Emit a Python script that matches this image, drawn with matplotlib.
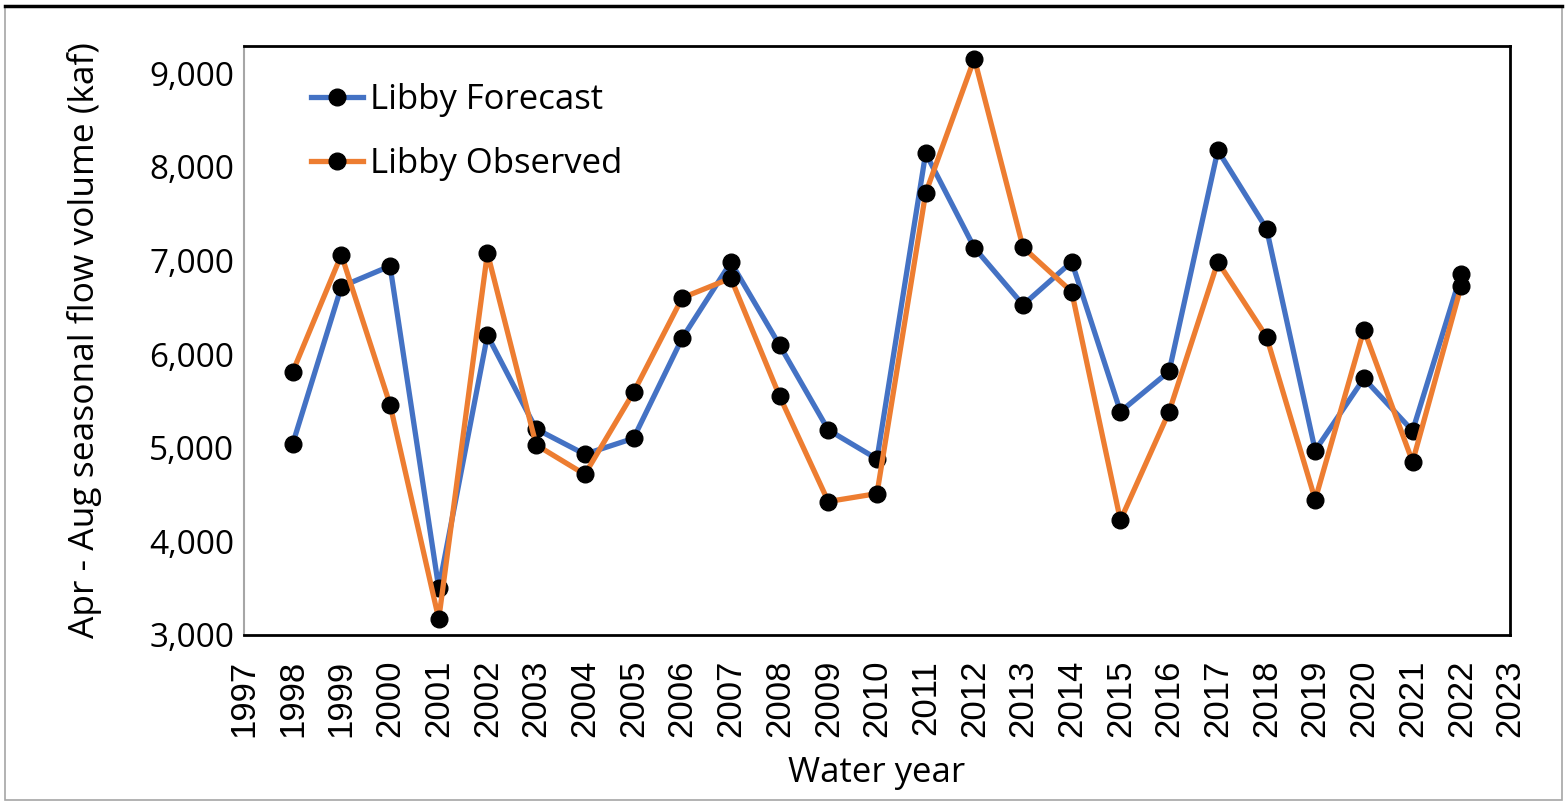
import matplotlib.pyplot as plt
from matplotlib.patches import Rectangle
from matplotlib.lines import Line2D
from matplotlib.ticker import FuncFormatter, MultipleLocator

years = list(range(1998, 2023))
libby_forecast = [5040, 6720, 6940, 3500, 6200, 5200, 4930, 5100, 6170, 6980,
                  6095, 5190, 4880, 8145, 7135, 6525, 6985, 5385, 5815, 8175,
                  7340, 4970, 5740, 5180, 6860]
libby_observed = [5810, 7060, 5460, 3170, 7080, 5030, 4715, 5590, 6600, 6810,
                  5550, 4425, 4510, 7720, 9155, 7140, 6665, 4225, 5385, 6985,
                  6185, 4445, 6260, 4850, 6730]

plt.rcParams['font.family'] = ['Open Sans', 'DejaVu Sans']

fig = plt.figure(figsize=(15.67, 8.05), dpi=100)
ax = fig.add_axes([0.1557, 0.2112, 0.8079, 0.7317])

ax.plot(years, libby_forecast, color='#4472C4', lw=3.8, marker='o',
        ms=12, mfc='black', mec='black', label='Libby Forecast', zorder=3)
ax.plot(years, libby_observed, color='#ED7D31', lw=3.8, marker='o',
        ms=12, mfc='black', mec='black', label='Libby Observed', zorder=4)

ax.set_xlim(1997, 2023)
ax.set_ylim(3000, 9290)
ax.xaxis.set_major_locator(MultipleLocator(1))
ax.yaxis.set_major_locator(MultipleLocator(1000))
ax.yaxis.set_major_formatter(FuncFormatter(lambda v, p: f'{int(v):,}'))
ax.tick_params(axis='x', labelrotation=90, length=0, labelsize=25, pad=18)
ax.tick_params(axis='y', length=0, labelsize=24, pad=7)
for lbl in ax.get_xticklabels():
    lbl.set_family(['Liberation Sans', 'DejaVu Sans'])

ax.set_xlabel('Water year', fontsize=25, labelpad=13)
ax.set_ylabel('Apr - Aug seasonal flow volume (kaf)', fontsize=25.5, labelpad=34)

for side in ['top', 'right', 'bottom']:
    ax.spines[side].set_color('black')
    ax.spines[side].set_linewidth(2)
ax.spines['left'].set_color('#a6a6a6')
ax.spines['left'].set_linewidth(1.5)

ax.legend(loc='upper left', bbox_to_anchor=(0.028, 0.99), frameon=False,
          fontsize=25, labelspacing=0.86, handlelength=1.5, handletextpad=0.2)

# outer chart frame
fig.patches.append(Rectangle((0.003, 0.006), 0.994, 0.986, transform=fig.transFigure,
                             fill=False, edgecolor='#a6a6a6', lw=1.2))
fig.lines.append(Line2D([0.003, 0.997], [0.992, 0.992], transform=fig.transFigure,
                        color='black', lw=2.5))

fig.savefig('out.png', dpi=100)
